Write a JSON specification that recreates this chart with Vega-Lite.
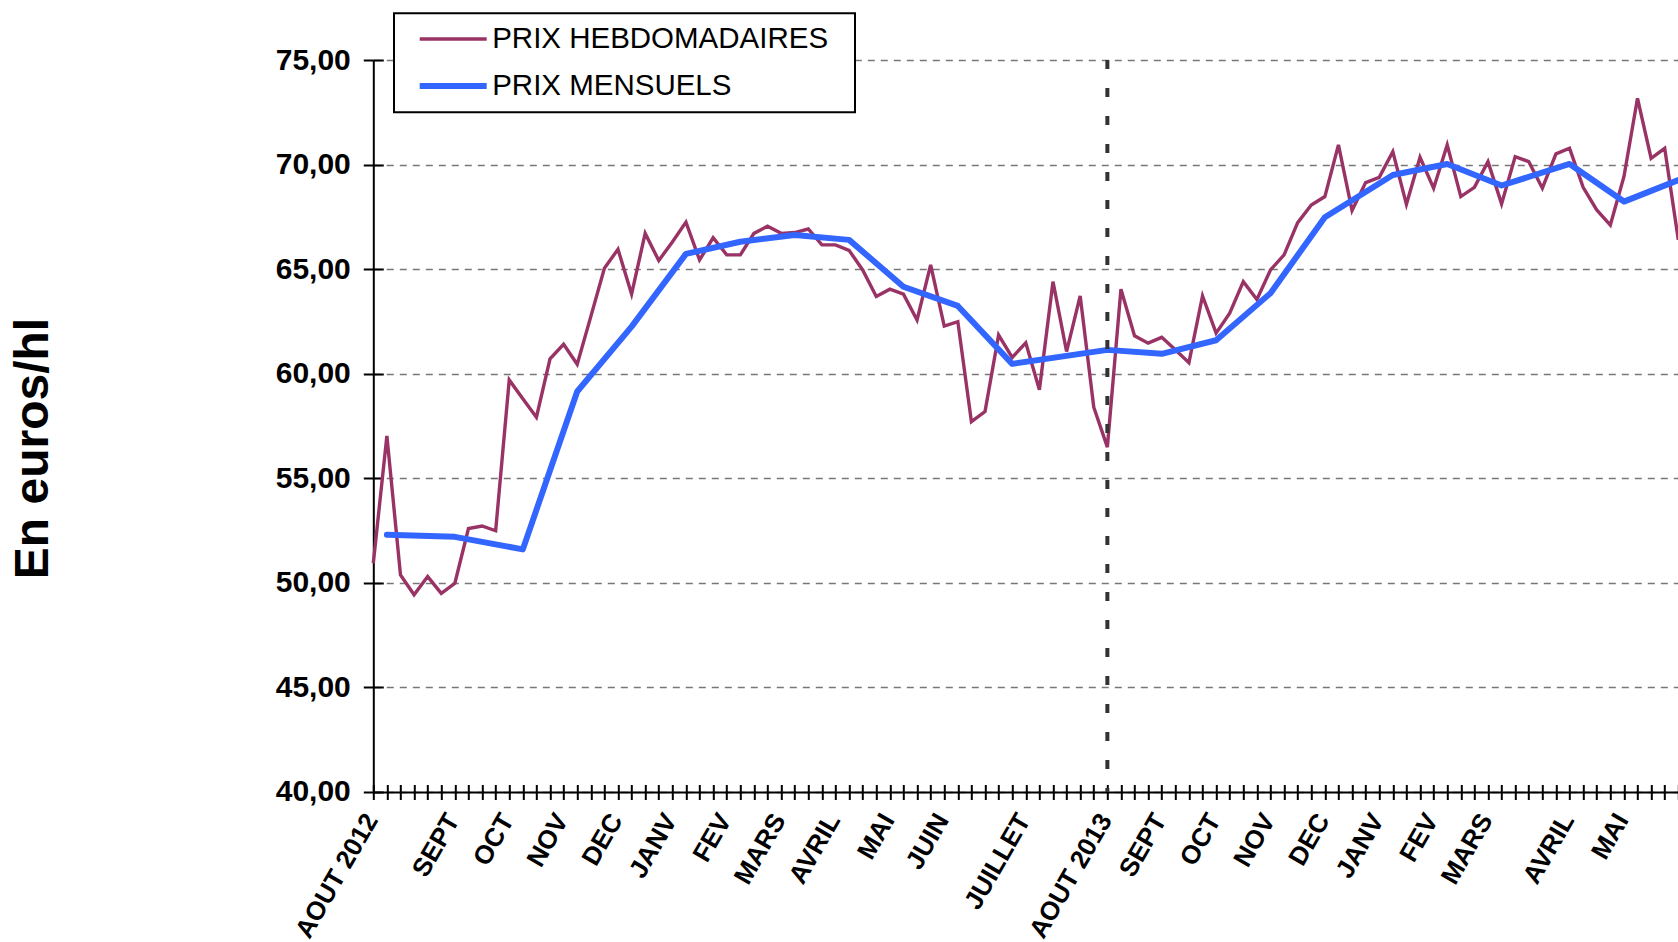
{
  "$schema": "https://vega.github.io/schema/vega-lite/v6.json",
  "autosize": {"type": "none"},
  "padding": {"left": 373.3, "top": 60, "right": 0, "bottom": 150},
  "width": 1305,
  "height": 732,
  "background": "white",
  "config": {"view": {"stroke": null}, "font": "Liberation Sans", "legend": {"strokeWidth": 2}},
  "datasets": {
    "hebdo": [
      {"semaine": 0, "prix": 50.94, "serie": "PRIX HEBDOMADAIRES"},
      {"semaine": 1, "prix": 57.03, "serie": "PRIX HEBDOMADAIRES"},
      {"semaine": 2, "prix": 50.38, "serie": "PRIX HEBDOMADAIRES"},
      {"semaine": 3, "prix": 49.43, "serie": "PRIX HEBDOMADAIRES"},
      {"semaine": 4, "prix": 50.3, "serie": "PRIX HEBDOMADAIRES"},
      {"semaine": 5, "prix": 49.5, "serie": "PRIX HEBDOMADAIRES"},
      {"semaine": 6, "prix": 49.98, "serie": "PRIX HEBDOMADAIRES"},
      {"semaine": 7, "prix": 52.6, "serie": "PRIX HEBDOMADAIRES"},
      {"semaine": 8, "prix": 52.72, "serie": "PRIX HEBDOMADAIRES"},
      {"semaine": 9, "prix": 52.49, "serie": "PRIX HEBDOMADAIRES"},
      {"semaine": 10, "prix": 59.7, "serie": "PRIX HEBDOMADAIRES"},
      {"semaine": 11, "prix": 58.8, "serie": "PRIX HEBDOMADAIRES"},
      {"semaine": 12, "prix": 57.92, "serie": "PRIX HEBDOMADAIRES"},
      {"semaine": 13, "prix": 60.71, "serie": "PRIX HEBDOMADAIRES"},
      {"semaine": 14, "prix": 61.41, "serie": "PRIX HEBDOMADAIRES"},
      {"semaine": 15, "prix": 60.45, "serie": "PRIX HEBDOMADAIRES"},
      {"semaine": 16, "prix": 62.73, "serie": "PRIX HEBDOMADAIRES"},
      {"semaine": 17, "prix": 65.04, "serie": "PRIX HEBDOMADAIRES"},
      {"semaine": 18, "prix": 65.95, "serie": "PRIX HEBDOMADAIRES"},
      {"semaine": 19, "prix": 63.81, "serie": "PRIX HEBDOMADAIRES"},
      {"semaine": 20, "prix": 66.71, "serie": "PRIX HEBDOMADAIRES"},
      {"semaine": 21, "prix": 65.41, "serie": "PRIX HEBDOMADAIRES"},
      {"semaine": 22, "prix": 66.3, "serie": "PRIX HEBDOMADAIRES"},
      {"semaine": 23, "prix": 67.25, "serie": "PRIX HEBDOMADAIRES"},
      {"semaine": 24, "prix": 65.44, "serie": "PRIX HEBDOMADAIRES"},
      {"semaine": 25, "prix": 66.5, "serie": "PRIX HEBDOMADAIRES"},
      {"semaine": 26, "prix": 65.68, "serie": "PRIX HEBDOMADAIRES"},
      {"semaine": 27, "prix": 65.68, "serie": "PRIX HEBDOMADAIRES"},
      {"semaine": 28, "prix": 66.71, "serie": "PRIX HEBDOMADAIRES"},
      {"semaine": 29, "prix": 67.05, "serie": "PRIX HEBDOMADAIRES"},
      {"semaine": 30, "prix": 66.71, "serie": "PRIX HEBDOMADAIRES"},
      {"semaine": 31, "prix": 66.75, "serie": "PRIX HEBDOMADAIRES"},
      {"semaine": 32, "prix": 66.92, "serie": "PRIX HEBDOMADAIRES"},
      {"semaine": 33, "prix": 66.16, "serie": "PRIX HEBDOMADAIRES"},
      {"semaine": 34, "prix": 66.16, "serie": "PRIX HEBDOMADAIRES"},
      {"semaine": 35, "prix": 65.9, "serie": "PRIX HEBDOMADAIRES"},
      {"semaine": 36, "prix": 64.96, "serie": "PRIX HEBDOMADAIRES"},
      {"semaine": 37, "prix": 63.69, "serie": "PRIX HEBDOMADAIRES"},
      {"semaine": 38, "prix": 64.04, "serie": "PRIX HEBDOMADAIRES"},
      {"semaine": 39, "prix": 63.8, "serie": "PRIX HEBDOMADAIRES"},
      {"semaine": 40, "prix": 62.57, "serie": "PRIX HEBDOMADAIRES"},
      {"semaine": 41, "prix": 65.2, "serie": "PRIX HEBDOMADAIRES"},
      {"semaine": 42, "prix": 62.28, "serie": "PRIX HEBDOMADAIRES"},
      {"semaine": 43, "prix": 62.49, "serie": "PRIX HEBDOMADAIRES"},
      {"semaine": 44, "prix": 57.71, "serie": "PRIX HEBDOMADAIRES"},
      {"semaine": 45, "prix": 58.19, "serie": "PRIX HEBDOMADAIRES"},
      {"semaine": 46, "prix": 61.85, "serie": "PRIX HEBDOMADAIRES"},
      {"semaine": 47, "prix": 60.78, "serie": "PRIX HEBDOMADAIRES"},
      {"semaine": 48, "prix": 61.48, "serie": "PRIX HEBDOMADAIRES"},
      {"semaine": 49, "prix": 59.23, "serie": "PRIX HEBDOMADAIRES"},
      {"semaine": 50, "prix": 64.4, "serie": "PRIX HEBDOMADAIRES"},
      {"semaine": 51, "prix": 61.06, "serie": "PRIX HEBDOMADAIRES"},
      {"semaine": 52, "prix": 63.72, "serie": "PRIX HEBDOMADAIRES"},
      {"semaine": 53, "prix": 58.4, "serie": "PRIX HEBDOMADAIRES"},
      {"semaine": 54, "prix": 56.49, "serie": "PRIX HEBDOMADAIRES"},
      {"semaine": 55, "prix": 64.04, "serie": "PRIX HEBDOMADAIRES"},
      {"semaine": 56, "prix": 61.81, "serie": "PRIX HEBDOMADAIRES"},
      {"semaine": 57, "prix": 61.46, "serie": "PRIX HEBDOMADAIRES"},
      {"semaine": 58, "prix": 61.74, "serie": "PRIX HEBDOMADAIRES"},
      {"semaine": 59, "prix": 61.14, "serie": "PRIX HEBDOMADAIRES"},
      {"semaine": 60, "prix": 60.53, "serie": "PRIX HEBDOMADAIRES"},
      {"semaine": 61, "prix": 63.72, "serie": "PRIX HEBDOMADAIRES"},
      {"semaine": 62, "prix": 61.94, "serie": "PRIX HEBDOMADAIRES"},
      {"semaine": 63, "prix": 62.89, "serie": "PRIX HEBDOMADAIRES"},
      {"semaine": 64, "prix": 64.4, "serie": "PRIX HEBDOMADAIRES"},
      {"semaine": 65, "prix": 63.55, "serie": "PRIX HEBDOMADAIRES"},
      {"semaine": 66, "prix": 64.96, "serie": "PRIX HEBDOMADAIRES"},
      {"semaine": 67, "prix": 65.68, "serie": "PRIX HEBDOMADAIRES"},
      {"semaine": 68, "prix": 67.22, "serie": "PRIX HEBDOMADAIRES"},
      {"semaine": 69, "prix": 68.07, "serie": "PRIX HEBDOMADAIRES"},
      {"semaine": 70, "prix": 68.47, "serie": "PRIX HEBDOMADAIRES"},
      {"semaine": 71, "prix": 70.94, "serie": "PRIX HEBDOMADAIRES"},
      {"semaine": 72, "prix": 67.8, "serie": "PRIX HEBDOMADAIRES"},
      {"semaine": 73, "prix": 69.14, "serie": "PRIX HEBDOMADAIRES"},
      {"semaine": 74, "prix": 69.39, "serie": "PRIX HEBDOMADAIRES"},
      {"semaine": 75, "prix": 70.62, "serie": "PRIX HEBDOMADAIRES"},
      {"semaine": 76, "prix": 68.1, "serie": "PRIX HEBDOMADAIRES"},
      {"semaine": 77, "prix": 70.35, "serie": "PRIX HEBDOMADAIRES"},
      {"semaine": 78, "prix": 68.87, "serie": "PRIX HEBDOMADAIRES"},
      {"semaine": 79, "prix": 70.94, "serie": "PRIX HEBDOMADAIRES"},
      {"semaine": 80, "prix": 68.47, "serie": "PRIX HEBDOMADAIRES"},
      {"semaine": 81, "prix": 68.91, "serie": "PRIX HEBDOMADAIRES"},
      {"semaine": 82, "prix": 70.14, "serie": "PRIX HEBDOMADAIRES"},
      {"semaine": 83, "prix": 68.12, "serie": "PRIX HEBDOMADAIRES"},
      {"semaine": 84, "prix": 70.38, "serie": "PRIX HEBDOMADAIRES"},
      {"semaine": 85, "prix": 70.14, "serie": "PRIX HEBDOMADAIRES"},
      {"semaine": 86, "prix": 68.87, "serie": "PRIX HEBDOMADAIRES"},
      {"semaine": 87, "prix": 70.51, "serie": "PRIX HEBDOMADAIRES"},
      {"semaine": 88, "prix": 70.78, "serie": "PRIX HEBDOMADAIRES"},
      {"semaine": 89, "prix": 68.91, "serie": "PRIX HEBDOMADAIRES"},
      {"semaine": 90, "prix": 67.83, "serie": "PRIX HEBDOMADAIRES"},
      {"semaine": 91, "prix": 67.11, "serie": "PRIX HEBDOMADAIRES"},
      {"semaine": 92, "prix": 69.42, "serie": "PRIX HEBDOMADAIRES"},
      {"semaine": 93, "prix": 73.17, "serie": "PRIX HEBDOMADAIRES"},
      {"semaine": 94, "prix": 70.3, "serie": "PRIX HEBDOMADAIRES"},
      {"semaine": 95, "prix": 70.78, "serie": "PRIX HEBDOMADAIRES"},
      {"semaine": 96, "prix": 66.4, "serie": "PRIX HEBDOMADAIRES"}
    ],
    "mensuel": [
      {"semaine": 1, "prix": 52.3, "serie": "PRIX MENSUELS"},
      {"semaine": 6, "prix": 52.2, "serie": "PRIX MENSUELS"},
      {"semaine": 11, "prix": 51.6, "serie": "PRIX MENSUELS"},
      {"semaine": 15, "prix": 59.15, "serie": "PRIX MENSUELS"},
      {"semaine": 19, "prix": 62.25, "serie": "PRIX MENSUELS"},
      {"semaine": 23, "prix": 65.73, "serie": "PRIX MENSUELS"},
      {"semaine": 27, "prix": 66.31, "serie": "PRIX MENSUELS"},
      {"semaine": 31, "prix": 66.63, "serie": "PRIX MENSUELS"},
      {"semaine": 35, "prix": 66.4, "serie": "PRIX MENSUELS"},
      {"semaine": 39, "prix": 64.16, "serie": "PRIX MENSUELS"},
      {"semaine": 43, "prix": 63.24, "serie": "PRIX MENSUELS"},
      {"semaine": 47, "prix": 60.47, "serie": "PRIX MENSUELS"},
      {"semaine": 54, "prix": 61.14, "serie": "PRIX MENSUELS"},
      {"semaine": 58, "prix": 60.95, "serie": "PRIX MENSUELS"},
      {"semaine": 62, "prix": 61.6, "serie": "PRIX MENSUELS"},
      {"semaine": 66, "prix": 63.85, "serie": "PRIX MENSUELS"},
      {"semaine": 70, "prix": 67.48, "serie": "PRIX MENSUELS"},
      {"semaine": 75, "prix": 69.5, "serie": "PRIX MENSUELS"},
      {"semaine": 79, "prix": 70.03, "serie": "PRIX MENSUELS"},
      {"semaine": 83, "prix": 69.0, "serie": "PRIX MENSUELS"},
      {"semaine": 88, "prix": 70.03, "serie": "PRIX MENSUELS"},
      {"semaine": 92, "prix": 68.23, "serie": "PRIX MENSUELS"},
      {"semaine": 96, "prix": 69.26, "serie": "PRIX MENSUELS"}
    ],
    "reperes": [
      {"semaine": 54}
    ]
  },
  "resolve": {"axis": {"x": "independent", "y": "independent"}},
  "layer": [
    {
      "data": {"name": "hebdo"},
      "mark": {"type": "line", "strokeJoin": "miter"},
      "encoding": {
        "x": {
          "field": "semaine", "type": "quantitative",
          "scale": {"domain": [0, 96], "nice": false, "zero": false},
          "axis": {
            "orient": "bottom",
            "values": [0,1,2,3,4,5,6,7,8,9,10,11,12,13,14,15,16,17,18,19,20,21,22,23,24,25,26,27,28,29,30,31,32,33,34,35,36,37,38,39,40,41,42,43,44,45,46,47,48,49,50,51,52,53,54,55,56,57,58,59,60,61,62,63,64,65,66,67,68,69,70,71,72,73,74,75,76,77,78,79,80,81,82,83,84,85,86,87,88,89,90,91,92,93,94,95,96],
            "title": null,
            "grid": false,
            "domainColor": "black", "domainWidth": 2,
            "tickColor": "black", "tickWidth": 2, "tickSize": 7.5,
            "labelExpr": "indexof([0,6,10,14,18,22,26,30,34,38,42,48,54,58,62,66,70,74,78,82,88,92], datum.value) >= 0 ? ['AOUT 2012','SEPT','OCT','NOV','DEC','JANV','FEV','MARS','AVRIL','MAI','JUIN','JUILLET','AOUT 2013','SEPT','OCT','NOV','DEC','JANV','FEV','MARS','AVRIL','MAI'][indexof([0,6,10,14,18,22,26,30,34,38,42,48,54,58,62,66,70,74,78,82,88,92], datum.value)] : ''",
            "labelAngle": -60, "labelAlign": "right", "labelBaseline": "middle",
            "labelFontSize": 26, "labelFontWeight": "bold", "labelColor": "black",
            "labelPadding": 16, "labelOffset": -2,
            "labelOverlap": false, "labelFlush": false, "labelBound": false
          }
        },
        "y": {
          "field": "prix", "type": "quantitative",
          "scale": {"domain": [40, 75], "nice": false, "zero": false},
          "axis": {
            "orient": "left",
            "values": [40, 45, 50, 55, 60, 65, 70, 75],
            "domainColor": "black", "domainWidth": 2,
            "tickColor": "black", "tickWidth": 2, "tickSize": 10,
            "labelExpr": "replace(format(datum.value, '.2f'), '.', ',')",
            "labelFontSize": 30, "labelFontWeight": "bold", "labelColor": "black",
            "labelPadding": 13, "labelFlush": false, "labelOverlap": false,
            "grid": true, "gridDash": [7, 6], "gridColor": "#777777", "gridWidth": 1.3,
            "title": "En euros/hl",
            "titleFontSize": 48, "titleFontWeight": "bold", "titleColor": "black",
            "titleAngle": -90, "titleAlign": "center", "titleBaseline": "alphabetic",
            "titleX": -326, "titleY": 388
          }
        },
        "color": {
          "field": "serie", "type": "nominal",
          "scale": {"domain": ["PRIX HEBDOMADAIRES", "PRIX MENSUELS"], "range": ["#993366", "#3366FF"]},
          "legend": {
            "orient": "none", "legendX": 20.7, "legendY": -46.7,
            "title": "\u00a0", "titleOrient": "right", "titleFontSize": 2, "titlePadding": 15,
            "padding": 10.7, "strokeColor": "black", "fillColor": "white",
            "symbolType": "stroke", "symbolSize": 4489, "symbolOffset": 12, "clipHeight": 30,
            "labelFontSize": 29.5, "labelFont": "Liberation Sans", "labelColor": "black",
            "labelOffset": 2.5, "labelLimit": 800, "rowPadding": 17
          }
        },
        "strokeWidth": {
          "field": "serie", "type": "ordinal",
          "scale": {"domain": ["PRIX HEBDOMADAIRES", "PRIX MENSUELS"], "range": [3.4, 6]},
          "legend": {
            "orient": "none", "legendX": 20.7, "legendY": -46.7,
            "title": "\u00a0", "titleOrient": "right", "titleFontSize": 2, "titlePadding": 15,
            "padding": 10.7, "strokeColor": "black", "fillColor": "white",
            "symbolType": "stroke", "symbolSize": 4489, "symbolOffset": 12, "clipHeight": 30,
            "labelFontSize": 29.5, "labelFont": "Liberation Sans", "labelColor": "black",
            "labelOffset": 2.5, "labelLimit": 800, "rowPadding": 17
          }
        }
      }
    },
    {
      "data": {"name": "mensuel"},
      "mark": {"type": "line", "strokeCap": "round", "strokeJoin": "round"},
      "encoding": {
        "x": {
          "field": "semaine", "type": "quantitative",
          "axis": {
            "orient": "bottom",
            "values": [0,1,2,3,4,5,6,7,8,9,10,11,12,13,14,15,16,17,18,19,20,21,22,23,24,25,26,27,28,29,30,31,32,33,34,35,36,37,38,39,40,41,42,43,44,45,46,47,48,49,50,51,52,53,54,55,56,57,58,59,60,61,62,63,64,65,66,67,68,69,70,71,72,73,74,75,76,77,78,79,80,81,82,83,84,85,86,87,88,89,90,91,92,93,94,95,96],
            "title": null, "grid": false, "domain": false, "labels": false,
            "tickColor": "black", "tickWidth": 2, "tickSize": -7.5
          }
        },
        "y": {
          "field": "prix", "type": "quantitative",
          "axis": {
            "orient": "left",
            "values": [40, 45, 50, 55, 60, 65, 70, 75],
            "title": null, "grid": false, "domain": false, "labels": false,
            "tickColor": "black", "tickWidth": 2, "tickSize": -10
          }
        },
        "color": {"field": "serie", "type": "nominal"},
        "strokeWidth": {"field": "serie", "type": "ordinal"}
      }
    },
    {
      "data": {"name": "reperes"},
      "mark": {"type": "rule", "color": "#333333", "strokeWidth": 4, "strokeDash": [9, 19]},
      "encoding": {
        "x": {"field": "semaine", "type": "quantitative", "axis": null}
      }
    }
  ]
}
